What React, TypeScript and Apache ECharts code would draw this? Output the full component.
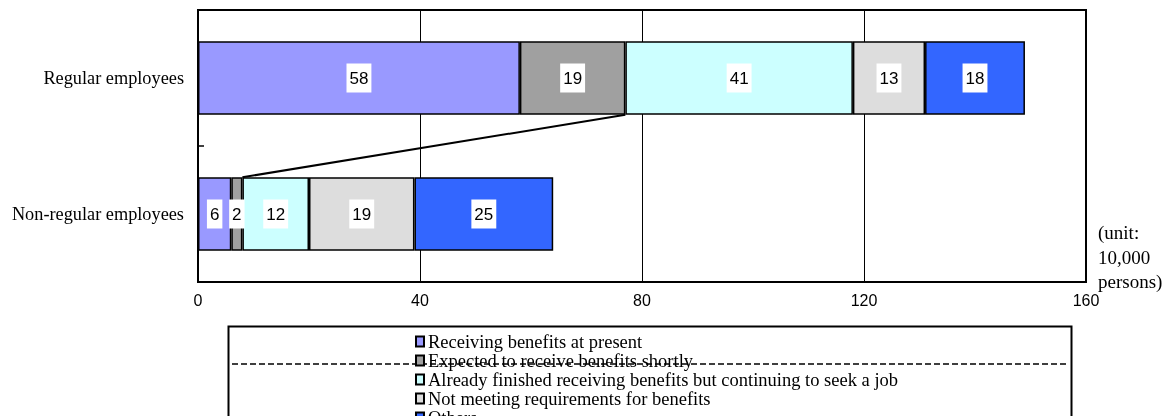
import React, { useEffect, useRef } from "react";
import * as echarts from "echarts";

const categories = ["Regular employees", "Non-regular employees"];
const seriesNames = [
  "Receiving benefits at present",
  "Expected to receive benefits shortly",
  "Already finished receiving benefits but continuing to seek a job",
  "Not meeting requirements for benefits",
  "Others",
];
const receiving = [58, 6];
const expected = [19, 2];
const finished = [41, 12];
const notMeeting = [13, 19];
const others = [18, 25];
const xTicks = { min: 0, max: 160, interval: 40 };
const unitLines = ["(unit:", "10,000", "persons)"];

const colors = ["#9999FF", "#A0A0A0", "#CCFFFF", "#DDDDDD", "#3366FF"];
const SERIF = "'Liberation Serif', 'Times New Roman', serif";
const SANS = "'Liberation Sans', Arial, sans-serif";
const BAR_FRAC = 0.54;

export default function App() {
  const ref = useRef<HTMLDivElement>(null);
  useEffect(() => {
    if (!ref.current) return;
    const chart = echarts.init(ref.current, null, { renderer: "svg" });
    const values = [receiving, expected, finished, notMeeting, others];
    const cumRegular = receiving[0] + expected[0];
    const cumNon = receiving[1] + expected[1];
    const barSeries = seriesNames.map((name, i) => ({
      name,
      type: "bar",
      stack: "total",
      barWidth: BAR_FRAC * 100 + "%",
      data: values[i],
      itemStyle: { color: colors[i], borderColor: "#000", borderWidth: 1.5 },
      label: {
        show: true,
        position: "inside",
        color: "#000",
        fontFamily: SANS,
        fontSize: 17,
        backgroundColor: "#fff",
        padding: [6, 3],
      },
    }));
    chart.setOption({
      animation: false,
      grid: { left: 198, right: 83, top: 10, bottom: 134, show: true, borderColor: "#000", borderWidth: 2, backgroundColor: "transparent", outerBoundsMode: "none" },
      xAxis: {
        type: "value",
        min: xTicks.min,
        max: xTicks.max,
        interval: xTicks.interval,
        axisLine: { show: false },
        axisTick: { show: false },
        splitLine: { show: true, lineStyle: { color: "#000", width: 1 } },
        axisLabel: { color: "#000", fontFamily: SANS, fontSize: 16, margin: 10 },
      },
      yAxis: {
        type: "category",
        inverse: true,
        data: categories,
        axisLine: { show: true, lineStyle: { color: "#000", width: 2 } },
        axisTick: { show: true, inside: true, length: 6, lineStyle: { color: "#000", width: 1.5 } },
        axisLabel: { color: "#000", fontFamily: SERIF, fontSize: 18.3, margin: 14 },
      },
      legend: {
        show: true,
        orient: "vertical",
        left: 410,
        top: 327,
        height: 200,
        itemWidth: 8,
        itemHeight: 10,
        itemGap: 0,
        icon: "rect",
        data: seriesNames,
        textStyle: { color: "#000", fontFamily: SERIF, fontSize: 18.5, lineHeight: 18.2, padding: [0, 0, 0, -1] },
      },
      graphic: [
        { type: "rect", left: 226, top: 324, shape: { width: 843, height: 110 }, style: { fill: "none", stroke: "#000", lineWidth: 2 }, z: -1 },
        { type: "line", shape: { x1: 232, y1: 364, x2: 1068, y2: 364 }, style: { stroke: "#000", lineWidth: 1.5, lineDash: [6, 3] }, z: -1 },
        ...unitLines.map((t, i) => ({
          type: "text",
          left: 1098,
          top: 223 + i * 24.5,
          style: { text: t, fill: "#000", font: "19px " + SERIF },
        })),
      ],
      series: [
        ...barSeries,
        {
          type: "custom",
          coordinateSystem: "cartesian2d",
          silent: true,
          encode: { x: 0, y: 2 },
          data: [[cumRegular, cumNon, 0]],
          z: 5,
          renderItem: (params: any, api: any) => {
            const a = api.coord([api.value(0), 0]);
            const b = api.coord([api.value(1), 1]);
            const half = (api.size([0, 1])[1] * BAR_FRAC) / 2;
            return {
              type: "line",
              shape: { x1: a[0], y1: a[1] + half, x2: b[0], y2: b[1] - half },
              style: { stroke: "#000", lineWidth: 2 },
            };
          },
        },
      ],
    });
    return () => chart.dispose();
  }, []);
  return <div ref={ref} style={{ position: "fixed", left: 0, top: 0, width: 1169, height: 416 }} />;
}
